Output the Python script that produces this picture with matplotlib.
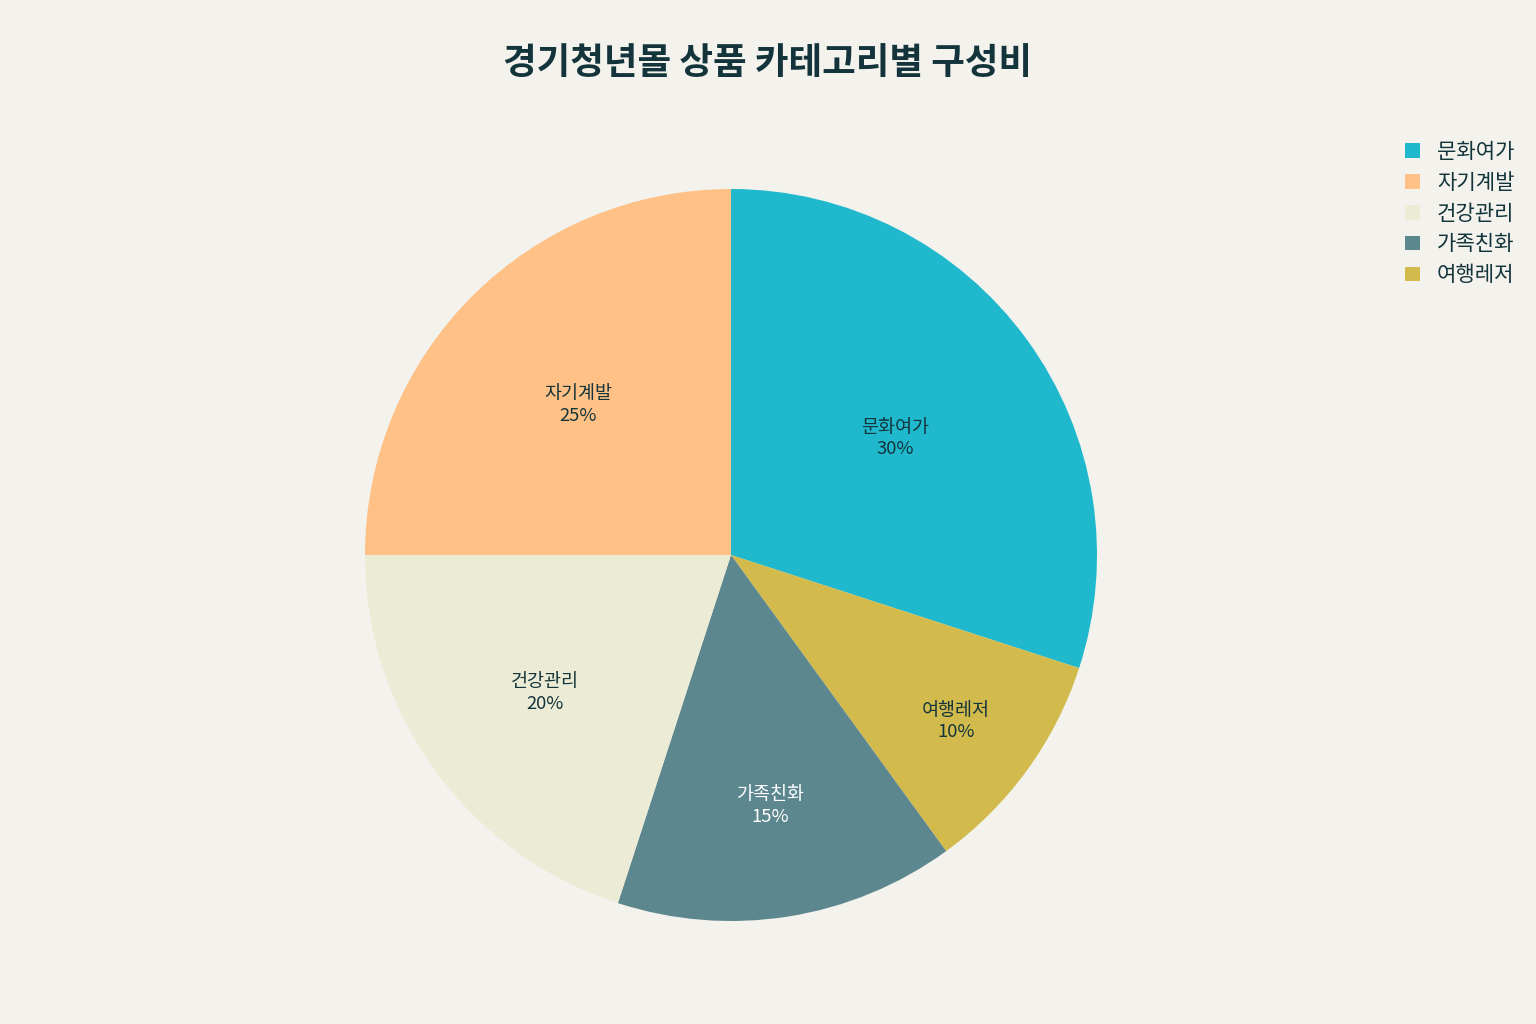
import matplotlib
matplotlib.use('Agg')
import matplotlib.pyplot as plt
import numpy as np

plt.rcParams['font.family'] = ['Noto Sans CJK KR', 'DejaVu Sans']

# 데이터 (시계방향, 12시 방향부터)
categories = ['문화여가', '여행레저', '가족친화', '건강관리', '자기계발']
values = [30, 10, 15, 20, 25]
colors = ['#1FB8CD', '#D2BA4C', '#5D878F', '#ECEBD5', '#FFC185']
text_colors = ['#13343B', '#13343B', 'white', '#13343B', '#13343B']
label_r = [0.555, 0.76, 0.686, 0.628, 0.59]   # 라벨 위치 (반지름 비율)
legend_order = ['문화여가', '자기계발', '건강관리', '가족친화', '여행레저']

bg = '#F3F2EC'
fig = plt.figure(figsize=(15.36, 10.24), dpi=100, facecolor=bg)

# 파이 중심 (731,555) px, 반지름 366 px
cx, cy, r = 731, 555, 366
ax = fig.add_axes([(cx - r) / 1536, (1024 - cy - r) / 1024, 2 * r / 1536, 2 * r / 1024])
ax.set_facecolor(bg)

wedges, _ = ax.pie(values, colors=colors, startangle=90, counterclock=False,
                   wedgeprops=dict(linewidth=0))
ax.set_xlim(-1, 1)
ax.set_ylim(-1, 1)
ax.set_aspect('equal')
ax.axis('off')

total = sum(values)
cum = np.cumsum([0] + values)
for i, cat in enumerate(categories):
    mid = (cum[i] + cum[i + 1]) / 2 / total
    ang = np.deg2rad(90 - 360 * mid)
    x, y = label_r[i] * np.cos(ang), label_r[i] * np.sin(ang) - 0.008
    ax.text(x, y, f'{cat}\n{values[i]}%', ha='center', va='center',
            fontsize=13.3, color=text_colors[i], linespacing=1.25)

# 범례
handles = [wedges[categories.index(c)] for c in legend_order]
leg = fig.legend(handles, legend_order, loc='upper left', bbox_to_anchor=(0.9025, 0.881),
                 frameon=False, fontsize=15.2, handlelength=0.7, handleheight=0.7,
                 handletextpad=0.8, labelspacing=0.42, labelcolor='#13343B')

fig.text(0.5, 0.938, '경기청년몰 상품 카테고리별 구성비', ha='center', va='center',
         fontsize=26.3, fontweight='bold', color='#13343B')

fig.savefig('out.png', dpi=100, facecolor=bg)
